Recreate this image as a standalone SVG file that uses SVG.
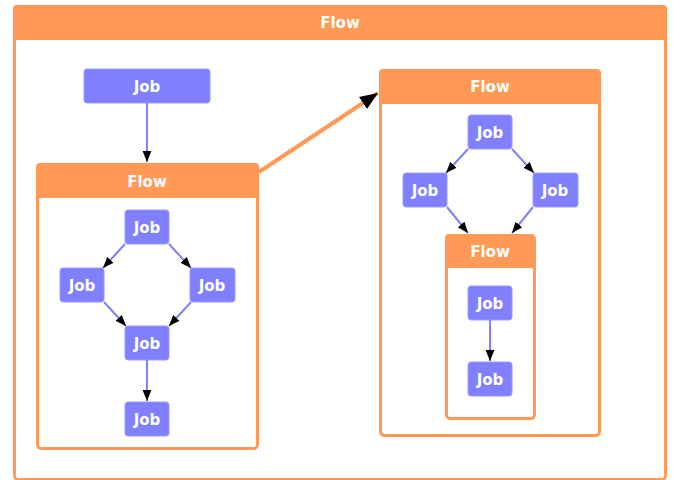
<svg xmlns="http://www.w3.org/2000/svg" width="673" height="480" viewBox="0 0 673 480" font-family="DejaVu Sans, Verdana, sans-serif">
<defs>
<style>
.fb{fill:#fff;stroke:#FF9955;stroke-width:3}
.fh{fill:#FF9955}
.job{fill:#8080FF;stroke:#9a9aff;stroke-width:1}
.t{fill:#fff;font-family:'DejaVu Sans',Verdana,sans-serif;font-weight:bold;text-anchor:middle}
.tf{font-size:15px}
.tj{font-size:15px}
.e{stroke:#8080FF;stroke-width:2;fill:none}
.eo{stroke:#FF9955;stroke-width:4;fill:none}
</style>
<marker id="a" viewBox="0 0 10 10" refX="10" refY="5" markerWidth="11" markerHeight="11" markerUnits="userSpaceOnUse" orient="auto">
<path d="M0,1 L10,5 L0,9 z" fill="#000"/>
</marker>
<marker id="ab" viewBox="0 0 10 10" refX="10" refY="5" markerWidth="18" markerHeight="18" markerUnits="userSpaceOnUse" orient="auto">
<path d="M0,1 L10,5 L0,9 z" fill="#000"/>
</marker>
</defs>
<g id="flow-outer">
<rect class="fb" x="14.5" y="6.5" width="651" height="473" rx="4"/>
<path class="fh" d="M13,9 a4,4 0 0 1 4,-4 h646 a4,4 0 0 1 4,4 v31 h-654 z"/>
<text class="t tf" x="340" y="27.5">Flow</text>
</g>
<g id="job-top">
<rect class="job" x="84" y="69" width="126" height="34" rx="3"/>
<text class="t tj" x="147" y="91.5">Job</text>
</g>
<g id="flow-left">
<rect class="fb" x="37.5" y="164.5" width="220" height="284" rx="4"/>
<path class="fh" d="M36,167 a4,4 0 0 1 4,-4 h215 a4,4 0 0 1 4,4 v31 h-223 z"/>
<text class="t tf" x="147" y="186.5">Flow</text>
</g>
<g id="job-l1"><rect class="job" x="125" y="210" width="44" height="34" rx="3"/><text class="t tj" x="147" y="232.5">Job</text></g>
<g id="job-l2"><rect class="job" x="60" y="268" width="44" height="34" rx="3"/><text class="t tj" x="82" y="290.5">Job</text></g>
<g id="job-l3"><rect class="job" x="190" y="268" width="45" height="34" rx="3"/><text class="t tj" x="212" y="290.5">Job</text></g>
<g id="job-l4"><rect class="job" x="125" y="326" width="44" height="34" rx="3"/><text class="t tj" x="147" y="348.5">Job</text></g>
<g id="job-l5"><rect class="job" x="125" y="402" width="44" height="34" rx="3"/><text class="t tj" x="147" y="424.5">Job</text></g>
<g id="flow-right">
<rect class="fb" x="380.5" y="70.5" width="219" height="365" rx="4"/>
<path class="fh" d="M379,73 a4,4 0 0 1 4,-4 h214 a4,4 0 0 1 4,4 v31 h-222 z"/>
<text class="t tf" x="490" y="91.5">Flow</text>
</g>
<g id="job-r1"><rect class="job" x="468" y="115" width="44" height="34" rx="3"/><text class="t tj" x="490" y="137.5">Job</text></g>
<g id="job-r2"><rect class="job" x="403" y="173" width="44" height="34" rx="3"/><text class="t tj" x="425" y="195.5">Job</text></g>
<g id="job-r3"><rect class="job" x="533" y="173" width="45" height="34" rx="3"/><text class="t tj" x="555" y="195.5">Job</text></g>
<g id="flow-inner">
<rect class="fb" x="446.5" y="235.5" width="88" height="183" rx="4"/>
<path class="fh" d="M445,238 a4,4 0 0 1 4,-4 h82 a4,4 0 0 1 4,4 v30 h-90 z"/>
<text class="t tf" x="490" y="256.5">Flow</text>
</g>
<g id="job-i1"><rect class="job" x="468" y="286" width="44" height="34" rx="3"/><text class="t tj" x="490" y="308.5">Job</text></g>
<g id="job-i2"><rect class="job" x="468" y="362" width="44" height="34" rx="3"/><text class="t tj" x="490" y="384.5">Job</text></g>
<g id="connectors">
<line class="e" x1="147" y1="103" x2="147" y2="162" marker-end="url(#a)"/>
<line class="e" x1="125" y1="244" x2="103" y2="268" marker-end="url(#a)"/>
<line class="e" x1="169" y1="244" x2="191" y2="268" marker-end="url(#a)"/>
<line class="e" x1="104" y1="302" x2="126" y2="326" marker-end="url(#a)"/>
<line class="e" x1="191" y1="302" x2="169" y2="326" marker-end="url(#a)"/>
<line class="e" x1="147" y1="360" x2="147" y2="401" marker-end="url(#a)"/>
<line class="e" x1="468" y1="149" x2="446" y2="173" marker-end="url(#a)"/>
<line class="e" x1="512" y1="149" x2="534" y2="173" marker-end="url(#a)"/>
<line class="e" x1="447" y1="207" x2="468" y2="233" marker-end="url(#a)"/>
<line class="e" x1="533" y1="207" x2="512" y2="233" marker-end="url(#a)"/>
<line class="e" x1="490" y1="320" x2="490" y2="361" marker-end="url(#a)"/>
<line class="eo" x1="259" y1="172" x2="378" y2="93" marker-end="url(#ab)"/>
</g>
</svg>
